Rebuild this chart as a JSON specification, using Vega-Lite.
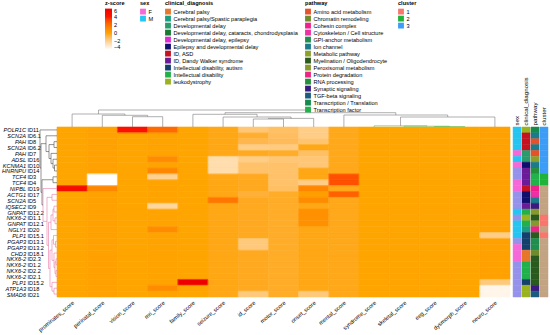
{
"$schema": "https://vega.github.io/schema/vega-lite/v6.json",
"width": 453,
"height": 170,
"padding": {"left": 1, "top": 1, "right": 1, "bottom": 1},
"config": {
  "font": "Liberation Sans",
  "view": {"stroke": null},
  "axis": {"labelFont": "Liberation Sans", "labelColor": "#000000"},
  "legend": {"titleFont": "Liberation Sans", "labelFont": "Liberation Sans", "titleFontSize": 5.6, "labelFontSize": 5.6, "symbolType": "square", "symbolSize": 34, "rowPadding": 0, "titlePadding": 2, "labelOffset": 2.5, "symbolStrokeWidth": 0, "labelLimit": 250, "padding": 0, "titleColor": "#000000", "labelColor": "#000000"}
},
"datasets": {
"rows": [
{"row":"POLR1C ID11","sex":"M","dx":"leukodystrophy","pw":"Transcription / Translation","cl":"3"},
{"row":"SCN2A ID6.1","sex":"M","dx":"ID, ASD","pw":"Ion channel","cl":"3"},
{"row":"PAH ID8","sex":"M","dx":"ID, ASD","pw":"Amino acid metabolism","cl":"3"},
{"row":"SCN2A ID6.2","sex":"M","dx":"ID, ASD","pw":"Ion channel","cl":"3"},
{"row":"PAH ID7","sex":"F","dx":"Developmental delay","pw":"Amino acid metabolism","cl":"3"},
{"row":"ADSL ID16","sex":"M","dx":"Developmental delay","pw":"Metabolic pathway","cl":"3"},
{"row":"KCNMA1 ID10","sex":"F","dx":"Epilepsy and developmental delay","pw":"Ion channel","cl":"3"},
{"row":"HNRNPU ID14","sex":"NA","dx":"ID, Dandy Walker syndrome","pw":"RNA processing","cl":"3"},
{"row":"TCF4 ID3","sex":"NA","dx":"ID, Dandy Walker syndrome","pw":"Transcription factor","cl":"2"},
{"row":"TCF4 ID4","sex":"F","dx":"ID, Dandy Walker syndrome","pw":"Transcription factor","cl":"2"},
{"row":"NIPBL ID19","sex":"F","dx":"ID, ASD","pw":"Cohesin complex","cl":"NA"},
{"row":"ACTG1 ID17","sex":"NA","dx":"Epilepsy and developmental delay","pw":"Cytoskeleton / Cell structure","cl":"NA"},
{"row":"SCN2A ID5","sex":"NA","dx":"Epilepsy and developmental delay","pw":"Ion channel","cl":"NA"},
{"row":"IQSEC2 ID9","sex":"NA","dx":"ID, Dandy Walker syndrome","pw":"Synaptic signaling","cl":"NA"},
{"row":"GNPAT ID12.2","sex":"M","dx":"Intellectual disability","pw":"Peroxisomal metabolism","cl":"NA"},
{"row":"NKX6-2 ID1.1","sex":"NA","dx":"leukodystrophy","pw":"Myelination / Oligodendrocyte","cl":"1"},
{"row":"GNPAT ID12.1","sex":"M","dx":"Intellectual disability","pw":"Peroxisomal metabolism","cl":"1"},
{"row":"NGLY1 ID20","sex":"M","dx":"Cerebral palsy/Spastic paraplegia","pw":"Protein degradation","cl":"NA"},
{"row":"PLP1 ID15.1","sex":"M","dx":"Intellectual disability, autism","pw":"Myelination / Oligodendrocyte","cl":"1"},
{"row":"PGAP3 ID13.1","sex":"NA","dx":"Intellectual disability, autism","pw":"GPI-anchor metabolism","cl":"NA"},
{"row":"PGAP3 ID13.2","sex":"F","dx":"Intellectual disability, autism","pw":"GPI-anchor metabolism","cl":"NA"},
{"row":"CHD3 ID18.1","sex":"F","dx":"Cerebral palsy","pw":"Chromatin remodeling","cl":"NA"},
{"row":"NKX6-2 ID2.3","sex":"F","dx":"Cerebral palsy","pw":"Myelination / Oligodendrocyte","cl":"NA"},
{"row":"NKX6-2 ID1.2","sex":"NA","dx":"Intellectual disability","pw":"Myelination / Oligodendrocyte","cl":"NA"},
{"row":"NKX6-2 ID2.2","sex":"NA","dx":"Intellectual disability","pw":"Myelination / Oligodendrocyte","cl":"NA"},
{"row":"NKX6-2 ID2.1","sex":"NA","dx":"Intellectual disability","pw":"Myelination / Oligodendrocyte","cl":"NA"},
{"row":"PLP1 ID15.2","sex":"NA","dx":"Intellectual disability, autism","pw":"Myelination / Oligodendrocyte","cl":"NA"},
{"row":"ATP1A3 ID18","sex":"NA","dx":"leukodystrophy","pw":"Synaptic signaling","cl":"NA"},
{"row":"SMAD6 ID21","sex":"NA","dx":"leukodystrophy","pw":"TGF-beta signaling","cl":"NA"}
],
"rowtree": [
{"p1":2.5,"h1":0,"p2":3.5,"h2":0,"h":3,"g":"0"},
{"p1":6.5,"h1":0,"p2":7.5,"h2":0,"h":2.5,"g":"0"},
{"p1":5.5,"h1":0,"p2":7,"h2":2.5,"h":4,"g":"0"},
{"p1":4.5,"h1":0,"p2":6.25,"h2":4,"h":6,"g":"0"},
{"p1":3,"h1":3,"p2":5.375,"h2":6,"h":8,"g":"0"},
{"p1":1.5,"h1":0,"p2":4.1875,"h2":8,"h":11,"g":"0"},
{"p1":8.5,"h1":0,"p2":9.5,"h2":0,"h":4,"g":"0"},
{"p1":11.5,"h1":0,"p2":12.5,"h2":0,"h":5,"g":"1"},
{"p1":13.5,"h1":0,"p2":14.5,"h2":0,"h":3,"g":"1"},
{"p1":15.5,"h1":0,"p2":16.5,"h2":0,"h":2,"g":"1"},
{"p1":14,"h1":3,"p2":16,"h2":2,"h":4,"g":"1"},
{"p1":15,"h1":4,"p2":17.5,"h2":0,"h":6,"g":"1"},
{"p1":19.5,"h1":0,"p2":20.5,"h2":0,"h":1.5,"g":"1"},
{"p1":18.5,"h1":0,"p2":20,"h2":1.5,"h":3.5,"g":"1"},
{"p1":22.5,"h1":0,"p2":23.5,"h2":0,"h":1,"g":"1"},
{"p1":24.5,"h1":0,"p2":25.5,"h2":0,"h":1,"g":"1"},
{"p1":23,"h1":1,"p2":25,"h2":1,"h":2,"g":"1"},
{"p1":21.5,"h1":0,"p2":24,"h2":2,"h":3,"g":"1"},
{"p1":19.25,"h1":3.5,"p2":22.75,"h2":3,"h":5,"g":"1"},
{"p1":27.5,"h1":0,"p2":28.5,"h2":0,"h":3,"g":"1"},
{"p1":26.5,"h1":0,"p2":28,"h2":3,"h":5,"g":"1"},
{"p1":21,"h1":5,"p2":27.25,"h2":5,"h":7,"g":"1"},
{"p1":16.25,"h1":6,"p2":24.125,"h2":7,"h":8.5,"g":"1"},
{"p1":12,"h1":5,"p2":20.1875,"h2":8.5,"h":10,"g":"1"},
{"p1":10.5,"h1":0,"p2":16.09375,"h2":10,"h":14,"g":"1"},
{"p1":9,"h1":4,"p2":13.296875,"h2":14,"h":15,"g":"0"},
{"p1":2.84375,"h1":11,"p2":11.1484375,"h2":15,"h":16,"g":"0"},
{"p1":0.5,"h1":0,"p2":6.99609375,"h2":16,"h":17,"g":"0"}
],
"coltree": [
{"p1":2.5,"h1":0,"p2":3.5,"h2":0,"h":10.3,"g":"0"},
{"p1":1.5,"h1":0,"p2":3,"h2":10.3,"h":11.7,"g":"0"},
{"p1":0.5,"h1":0,"p2":2.25,"h2":11.7,"h":13,"g":"0"},
{"p1":6.5,"h1":0,"p2":7.5,"h2":0,"h":8,"g":"0"},
{"p1":7,"h1":8,"p2":8.5,"h2":0,"h":8.6,"g":"0"},
{"p1":5.5,"h1":0,"p2":7.75,"h2":8.6,"h":10,"g":"0"},
{"p1":4.5,"h1":0,"p2":6.625,"h2":10,"h":12.7,"g":"0"},
{"p1":12.5,"h1":0,"p2":13.5,"h2":0,"h":0.5,"g":"2"},
{"p1":11.5,"h1":0,"p2":13,"h2":0.5,"h":0.8,"g":"2"},
{"p1":10.5,"h1":0,"p2":12.25,"h2":0.8,"h":1.2,"g":"2"},
{"p1":11.375,"h1":1.2,"p2":14.5,"h2":0,"h":10,"g":"0"},
{"p1":9.5,"h1":0,"p2":12.9375,"h2":10,"h":12,"g":"0"},
{"p1":5.5625,"h1":12.7,"p2":11.21875,"h2":12,"h":14.3,"g":"0"},
{"p1":1.375,"h1":13,"p2":8.390625,"h2":14.3,"h":17,"g":"0"}
],
"cells": [
{"r":"POLR1C ID11","s":"prominates_score","z":0},{"r":"POLR1C ID11","s":"perinatal_score","z":0.15},{"r":"POLR1C ID11","s":"vision_score","z":4.5},{"r":"POLR1C ID11","s":"mri_score","z":2.2},{"r":"POLR1C ID11","s":"family_score","z":0},{"r":"POLR1C ID11","s":"seizure_score","z":-0.1},{"r":"POLR1C ID11","s":"id_score","z":-1.5},{"r":"POLR1C ID11","s":"motor_score","z":-1.2},{"r":"POLR1C ID11","s":"onset_score","z":-1.8},{"r":"POLR1C ID11","s":"mental_score","z":-0.15},{"r":"POLR1C ID11","s":"syndrome_score","z":0},{"r":"POLR1C ID11","s":"skeletal_score","z":0},{"r":"POLR1C ID11","s":"eeg_score","z":0},{"r":"POLR1C ID11","s":"dysmorph_score","z":0},{"r":"POLR1C ID11","s":"neuro_score","z":0.15},
{"r":"SCN2A ID6.1","s":"prominates_score","z":0},{"r":"SCN2A ID6.1","s":"perinatal_score","z":0.15},{"r":"SCN2A ID6.1","s":"vision_score","z":0},{"r":"SCN2A ID6.1","s":"mri_score","z":0.1},{"r":"SCN2A ID6.1","s":"family_score","z":0},{"r":"SCN2A ID6.1","s":"seizure_score","z":-0.1},{"r":"SCN2A ID6.1","s":"id_score","z":-0.4},{"r":"SCN2A ID6.1","s":"motor_score","z":-1.1},{"r":"SCN2A ID6.1","s":"onset_score","z":-1.8},{"r":"SCN2A ID6.1","s":"mental_score","z":-0.15},{"r":"SCN2A ID6.1","s":"syndrome_score","z":0},{"r":"SCN2A ID6.1","s":"skeletal_score","z":0},{"r":"SCN2A ID6.1","s":"eeg_score","z":0},{"r":"SCN2A ID6.1","s":"dysmorph_score","z":0},{"r":"SCN2A ID6.1","s":"neuro_score","z":0.15},
{"r":"PAH ID8","s":"prominates_score","z":0},{"r":"PAH ID8","s":"perinatal_score","z":0.15},{"r":"PAH ID8","s":"vision_score","z":0},{"r":"PAH ID8","s":"mri_score","z":0.1},{"r":"PAH ID8","s":"family_score","z":0},{"r":"PAH ID8","s":"seizure_score","z":-0.1},{"r":"PAH ID8","s":"id_score","z":-0.8},{"r":"PAH ID8","s":"motor_score","z":-1},{"r":"PAH ID8","s":"onset_score","z":-1.4},{"r":"PAH ID8","s":"mental_score","z":-0.15},{"r":"PAH ID8","s":"syndrome_score","z":0},{"r":"PAH ID8","s":"skeletal_score","z":0},{"r":"PAH ID8","s":"eeg_score","z":0},{"r":"PAH ID8","s":"dysmorph_score","z":0},{"r":"PAH ID8","s":"neuro_score","z":0.15},
{"r":"SCN2A ID6.2","s":"prominates_score","z":0},{"r":"SCN2A ID6.2","s":"perinatal_score","z":0.15},{"r":"SCN2A ID6.2","s":"vision_score","z":0},{"r":"SCN2A ID6.2","s":"mri_score","z":0.1},{"r":"SCN2A ID6.2","s":"family_score","z":0},{"r":"SCN2A ID6.2","s":"seizure_score","z":-0.1},{"r":"SCN2A ID6.2","s":"id_score","z":-1.8},{"r":"SCN2A ID6.2","s":"motor_score","z":-1.7},{"r":"SCN2A ID6.2","s":"onset_score","z":-0.1},{"r":"SCN2A ID6.2","s":"mental_score","z":-0.15},{"r":"SCN2A ID6.2","s":"syndrome_score","z":0},{"r":"SCN2A ID6.2","s":"skeletal_score","z":0},{"r":"SCN2A ID6.2","s":"eeg_score","z":0},{"r":"SCN2A ID6.2","s":"dysmorph_score","z":0},{"r":"SCN2A ID6.2","s":"neuro_score","z":0.15},
{"r":"PAH ID7","s":"prominates_score","z":0},{"r":"PAH ID7","s":"perinatal_score","z":0.15},{"r":"PAH ID7","s":"vision_score","z":0},{"r":"PAH ID7","s":"mri_score","z":0.1},{"r":"PAH ID7","s":"family_score","z":0},{"r":"PAH ID7","s":"seizure_score","z":-0.1},{"r":"PAH ID7","s":"id_score","z":-0.2},{"r":"PAH ID7","s":"motor_score","z":-0.3},{"r":"PAH ID7","s":"onset_score","z":-1.2},{"r":"PAH ID7","s":"mental_score","z":-0.15},{"r":"PAH ID7","s":"syndrome_score","z":0},{"r":"PAH ID7","s":"skeletal_score","z":0},{"r":"PAH ID7","s":"eeg_score","z":0},{"r":"PAH ID7","s":"dysmorph_score","z":0},{"r":"PAH ID7","s":"neuro_score","z":0.15},
{"r":"ADSL ID16","s":"prominates_score","z":0},{"r":"ADSL ID16","s":"perinatal_score","z":0.15},{"r":"ADSL ID16","s":"vision_score","z":0},{"r":"ADSL ID16","s":"mri_score","z":1},{"r":"ADSL ID16","s":"family_score","z":0},{"r":"ADSL ID16","s":"seizure_score","z":-2.5},{"r":"ADSL ID16","s":"id_score","z":-1.8},{"r":"ADSL ID16","s":"motor_score","z":-1.5},{"r":"ADSL ID16","s":"onset_score","z":-1.5},{"r":"ADSL ID16","s":"mental_score","z":-0.15},{"r":"ADSL ID16","s":"syndrome_score","z":0},{"r":"ADSL ID16","s":"skeletal_score","z":0},{"r":"ADSL ID16","s":"eeg_score","z":0},{"r":"ADSL ID16","s":"dysmorph_score","z":0},{"r":"ADSL ID16","s":"neuro_score","z":0.15},
{"r":"KCNMA1 ID10","s":"prominates_score","z":0},{"r":"KCNMA1 ID10","s":"perinatal_score","z":0.15},{"r":"KCNMA1 ID10","s":"vision_score","z":0},{"r":"KCNMA1 ID10","s":"mri_score","z":0.1},{"r":"KCNMA1 ID10","s":"family_score","z":0},{"r":"KCNMA1 ID10","s":"seizure_score","z":-2.5},{"r":"KCNMA1 ID10","s":"id_score","z":-1.3},{"r":"KCNMA1 ID10","s":"motor_score","z":-1.3},{"r":"KCNMA1 ID10","s":"onset_score","z":-1.5},{"r":"KCNMA1 ID10","s":"mental_score","z":-0.15},{"r":"KCNMA1 ID10","s":"syndrome_score","z":0},{"r":"KCNMA1 ID10","s":"skeletal_score","z":0},{"r":"KCNMA1 ID10","s":"eeg_score","z":0},{"r":"KCNMA1 ID10","s":"dysmorph_score","z":0},{"r":"KCNMA1 ID10","s":"neuro_score","z":0.15},
{"r":"HNRNPU ID14","s":"prominates_score","z":0},{"r":"HNRNPU ID14","s":"perinatal_score","z":0.15},{"r":"HNRNPU ID14","s":"vision_score","z":0},{"r":"HNRNPU ID14","s":"mri_score","z":1.2},{"r":"HNRNPU ID14","s":"family_score","z":0},{"r":"HNRNPU ID14","s":"seizure_score","z":-2.5},{"r":"HNRNPU ID14","s":"id_score","z":-1.3},{"r":"HNRNPU ID14","s":"motor_score","z":-1.3},{"r":"HNRNPU ID14","s":"onset_score","z":-0.1},{"r":"HNRNPU ID14","s":"mental_score","z":-0.15},{"r":"HNRNPU ID14","s":"syndrome_score","z":0},{"r":"HNRNPU ID14","s":"skeletal_score","z":0},{"r":"HNRNPU ID14","s":"eeg_score","z":0},{"r":"HNRNPU ID14","s":"dysmorph_score","z":0},{"r":"HNRNPU ID14","s":"neuro_score","z":0.15},
{"r":"TCF4 ID3","s":"prominates_score","z":0},{"r":"TCF4 ID3","s":"perinatal_score","z":-4},{"r":"TCF4 ID3","s":"vision_score","z":0},{"r":"TCF4 ID3","s":"mri_score","z":-2},{"r":"TCF4 ID3","s":"family_score","z":0},{"r":"TCF4 ID3","s":"seizure_score","z":-0.1},{"r":"TCF4 ID3","s":"id_score","z":-0.2},{"r":"TCF4 ID3","s":"motor_score","z":-1.3},{"r":"TCF4 ID3","s":"onset_score","z":-0.1},{"r":"TCF4 ID3","s":"mental_score","z":3},{"r":"TCF4 ID3","s":"syndrome_score","z":0},{"r":"TCF4 ID3","s":"skeletal_score","z":0},{"r":"TCF4 ID3","s":"eeg_score","z":0},{"r":"TCF4 ID3","s":"dysmorph_score","z":0},{"r":"TCF4 ID3","s":"neuro_score","z":0.15},
{"r":"TCF4 ID4","s":"prominates_score","z":0},{"r":"TCF4 ID4","s":"perinatal_score","z":-4},{"r":"TCF4 ID4","s":"vision_score","z":0},{"r":"TCF4 ID4","s":"mri_score","z":0.1},{"r":"TCF4 ID4","s":"family_score","z":0},{"r":"TCF4 ID4","s":"seizure_score","z":-0.1},{"r":"TCF4 ID4","s":"id_score","z":-0.2},{"r":"TCF4 ID4","s":"motor_score","z":-1.3},{"r":"TCF4 ID4","s":"onset_score","z":-1.8},{"r":"TCF4 ID4","s":"mental_score","z":3},{"r":"TCF4 ID4","s":"syndrome_score","z":0},{"r":"TCF4 ID4","s":"skeletal_score","z":0},{"r":"TCF4 ID4","s":"eeg_score","z":0},{"r":"TCF4 ID4","s":"dysmorph_score","z":0},{"r":"TCF4 ID4","s":"neuro_score","z":0.15},
{"r":"NIPBL ID19","s":"prominates_score","z":5},{"r":"NIPBL ID19","s":"perinatal_score","z":1.2},{"r":"NIPBL ID19","s":"vision_score","z":0},{"r":"NIPBL ID19","s":"mri_score","z":0.1},{"r":"NIPBL ID19","s":"family_score","z":0},{"r":"NIPBL ID19","s":"seizure_score","z":-0.1},{"r":"NIPBL ID19","s":"id_score","z":-0.2},{"r":"NIPBL ID19","s":"motor_score","z":-1.2},{"r":"NIPBL ID19","s":"onset_score","z":1.2},{"r":"NIPBL ID19","s":"mental_score","z":-0.15},{"r":"NIPBL ID19","s":"syndrome_score","z":0},{"r":"NIPBL ID19","s":"skeletal_score","z":0},{"r":"NIPBL ID19","s":"eeg_score","z":0},{"r":"NIPBL ID19","s":"dysmorph_score","z":0},{"r":"NIPBL ID19","s":"neuro_score","z":0.15},
{"r":"ACTG1 ID17","s":"prominates_score","z":0},{"r":"ACTG1 ID17","s":"perinatal_score","z":0.15},{"r":"ACTG1 ID17","s":"vision_score","z":0},{"r":"ACTG1 ID17","s":"mri_score","z":0.1},{"r":"ACTG1 ID17","s":"family_score","z":0},{"r":"ACTG1 ID17","s":"seizure_score","z":-0.1},{"r":"ACTG1 ID17","s":"id_score","z":-0.5},{"r":"ACTG1 ID17","s":"motor_score","z":-0.3},{"r":"ACTG1 ID17","s":"onset_score","z":0.3},{"r":"ACTG1 ID17","s":"mental_score","z":2.5},{"r":"ACTG1 ID17","s":"syndrome_score","z":0},{"r":"ACTG1 ID17","s":"skeletal_score","z":0},{"r":"ACTG1 ID17","s":"eeg_score","z":0},{"r":"ACTG1 ID17","s":"dysmorph_score","z":0},{"r":"ACTG1 ID17","s":"neuro_score","z":0.15},
{"r":"SCN2A ID5","s":"prominates_score","z":0},{"r":"SCN2A ID5","s":"perinatal_score","z":0.15},{"r":"SCN2A ID5","s":"vision_score","z":0},{"r":"SCN2A ID5","s":"mri_score","z":0.1},{"r":"SCN2A ID5","s":"family_score","z":0},{"r":"SCN2A ID5","s":"seizure_score","z":1.8},{"r":"SCN2A ID5","s":"id_score","z":-0.2},{"r":"SCN2A ID5","s":"motor_score","z":-0.3},{"r":"SCN2A ID5","s":"onset_score","z":1},{"r":"SCN2A ID5","s":"mental_score","z":-0.15},{"r":"SCN2A ID5","s":"syndrome_score","z":0},{"r":"SCN2A ID5","s":"skeletal_score","z":0},{"r":"SCN2A ID5","s":"eeg_score","z":0},{"r":"SCN2A ID5","s":"dysmorph_score","z":0},{"r":"SCN2A ID5","s":"neuro_score","z":0.15},
{"r":"IQSEC2 ID9","s":"prominates_score","z":0},{"r":"IQSEC2 ID9","s":"perinatal_score","z":0.15},{"r":"IQSEC2 ID9","s":"vision_score","z":0},{"r":"IQSEC2 ID9","s":"mri_score","z":-2.2},{"r":"IQSEC2 ID9","s":"family_score","z":0},{"r":"IQSEC2 ID9","s":"seizure_score","z":-0.1},{"r":"IQSEC2 ID9","s":"id_score","z":-0.2},{"r":"IQSEC2 ID9","s":"motor_score","z":-0.3},{"r":"IQSEC2 ID9","s":"onset_score","z":-0.1},{"r":"IQSEC2 ID9","s":"mental_score","z":-0.15},{"r":"IQSEC2 ID9","s":"syndrome_score","z":0},{"r":"IQSEC2 ID9","s":"skeletal_score","z":0},{"r":"IQSEC2 ID9","s":"eeg_score","z":0},{"r":"IQSEC2 ID9","s":"dysmorph_score","z":0},{"r":"IQSEC2 ID9","s":"neuro_score","z":0.15},
{"r":"GNPAT ID12.2","s":"prominates_score","z":0},{"r":"GNPAT ID12.2","s":"perinatal_score","z":0.15},{"r":"GNPAT ID12.2","s":"vision_score","z":0},{"r":"GNPAT ID12.2","s":"mri_score","z":0.1},{"r":"GNPAT ID12.2","s":"family_score","z":0},{"r":"GNPAT ID12.2","s":"seizure_score","z":-0.1},{"r":"GNPAT ID12.2","s":"id_score","z":-0.2},{"r":"GNPAT ID12.2","s":"motor_score","z":-0.3},{"r":"GNPAT ID12.2","s":"onset_score","z":0.8},{"r":"GNPAT ID12.2","s":"mental_score","z":-0.15},{"r":"GNPAT ID12.2","s":"syndrome_score","z":0},{"r":"GNPAT ID12.2","s":"skeletal_score","z":0},{"r":"GNPAT ID12.2","s":"eeg_score","z":0},{"r":"GNPAT ID12.2","s":"dysmorph_score","z":0},{"r":"GNPAT ID12.2","s":"neuro_score","z":0.15},
{"r":"NKX6-2 ID1.1","s":"prominates_score","z":0},{"r":"NKX6-2 ID1.1","s":"perinatal_score","z":0.15},{"r":"NKX6-2 ID1.1","s":"vision_score","z":0},{"r":"NKX6-2 ID1.1","s":"mri_score","z":0.1},{"r":"NKX6-2 ID1.1","s":"family_score","z":0},{"r":"NKX6-2 ID1.1","s":"seizure_score","z":-0.1},{"r":"NKX6-2 ID1.1","s":"id_score","z":-0.2},{"r":"NKX6-2 ID1.1","s":"motor_score","z":-0.3},{"r":"NKX6-2 ID1.1","s":"onset_score","z":0.8},{"r":"NKX6-2 ID1.1","s":"mental_score","z":-0.15},{"r":"NKX6-2 ID1.1","s":"syndrome_score","z":0},{"r":"NKX6-2 ID1.1","s":"skeletal_score","z":0},{"r":"NKX6-2 ID1.1","s":"eeg_score","z":0},{"r":"NKX6-2 ID1.1","s":"dysmorph_score","z":0},{"r":"NKX6-2 ID1.1","s":"neuro_score","z":0.15},
{"r":"GNPAT ID12.1","s":"prominates_score","z":0},{"r":"GNPAT ID12.1","s":"perinatal_score","z":0.15},{"r":"GNPAT ID12.1","s":"vision_score","z":0},{"r":"GNPAT ID12.1","s":"mri_score","z":0.1},{"r":"GNPAT ID12.1","s":"family_score","z":0},{"r":"GNPAT ID12.1","s":"seizure_score","z":-0.1},{"r":"GNPAT ID12.1","s":"id_score","z":-0.2},{"r":"GNPAT ID12.1","s":"motor_score","z":-0.3},{"r":"GNPAT ID12.1","s":"onset_score","z":0.8},{"r":"GNPAT ID12.1","s":"mental_score","z":-0.15},{"r":"GNPAT ID12.1","s":"syndrome_score","z":0},{"r":"GNPAT ID12.1","s":"skeletal_score","z":0},{"r":"GNPAT ID12.1","s":"eeg_score","z":0},{"r":"GNPAT ID12.1","s":"dysmorph_score","z":0},{"r":"GNPAT ID12.1","s":"neuro_score","z":0.15},
{"r":"NGLY1 ID20","s":"prominates_score","z":0},{"r":"NGLY1 ID20","s":"perinatal_score","z":0.15},{"r":"NGLY1 ID20","s":"vision_score","z":0},{"r":"NGLY1 ID20","s":"mri_score","z":1},{"r":"NGLY1 ID20","s":"family_score","z":0},{"r":"NGLY1 ID20","s":"seizure_score","z":-0.1},{"r":"NGLY1 ID20","s":"id_score","z":-0.2},{"r":"NGLY1 ID20","s":"motor_score","z":-0.3},{"r":"NGLY1 ID20","s":"onset_score","z":-0.1},{"r":"NGLY1 ID20","s":"mental_score","z":-0.15},{"r":"NGLY1 ID20","s":"syndrome_score","z":0},{"r":"NGLY1 ID20","s":"skeletal_score","z":0},{"r":"NGLY1 ID20","s":"eeg_score","z":0},{"r":"NGLY1 ID20","s":"dysmorph_score","z":0},{"r":"NGLY1 ID20","s":"neuro_score","z":0.15},
{"r":"PLP1 ID15.1","s":"prominates_score","z":0},{"r":"PLP1 ID15.1","s":"perinatal_score","z":0.15},{"r":"PLP1 ID15.1","s":"vision_score","z":0},{"r":"PLP1 ID15.1","s":"mri_score","z":0.1},{"r":"PLP1 ID15.1","s":"family_score","z":0},{"r":"PLP1 ID15.1","s":"seizure_score","z":-0.1},{"r":"PLP1 ID15.1","s":"id_score","z":-0.2},{"r":"PLP1 ID15.1","s":"motor_score","z":-0.3},{"r":"PLP1 ID15.1","s":"onset_score","z":-0.1},{"r":"PLP1 ID15.1","s":"mental_score","z":-0.15},{"r":"PLP1 ID15.1","s":"syndrome_score","z":0},{"r":"PLP1 ID15.1","s":"skeletal_score","z":0},{"r":"PLP1 ID15.1","s":"eeg_score","z":0},{"r":"PLP1 ID15.1","s":"dysmorph_score","z":0},{"r":"PLP1 ID15.1","s":"neuro_score","z":-1.8},
{"r":"PGAP3 ID13.1","s":"prominates_score","z":0},{"r":"PGAP3 ID13.1","s":"perinatal_score","z":0.15},{"r":"PGAP3 ID13.1","s":"vision_score","z":0},{"r":"PGAP3 ID13.1","s":"mri_score","z":0.1},{"r":"PGAP3 ID13.1","s":"family_score","z":0},{"r":"PGAP3 ID13.1","s":"seizure_score","z":-0.1},{"r":"PGAP3 ID13.1","s":"id_score","z":-1.6},{"r":"PGAP3 ID13.1","s":"motor_score","z":-0.3},{"r":"PGAP3 ID13.1","s":"onset_score","z":-0.1},{"r":"PGAP3 ID13.1","s":"mental_score","z":-0.15},{"r":"PGAP3 ID13.1","s":"syndrome_score","z":0},{"r":"PGAP3 ID13.1","s":"skeletal_score","z":0},{"r":"PGAP3 ID13.1","s":"eeg_score","z":0},{"r":"PGAP3 ID13.1","s":"dysmorph_score","z":0},{"r":"PGAP3 ID13.1","s":"neuro_score","z":0.15},
{"r":"PGAP3 ID13.2","s":"prominates_score","z":0},{"r":"PGAP3 ID13.2","s":"perinatal_score","z":0.15},{"r":"PGAP3 ID13.2","s":"vision_score","z":0},{"r":"PGAP3 ID13.2","s":"mri_score","z":0.1},{"r":"PGAP3 ID13.2","s":"family_score","z":0},{"r":"PGAP3 ID13.2","s":"seizure_score","z":-0.1},{"r":"PGAP3 ID13.2","s":"id_score","z":-1.6},{"r":"PGAP3 ID13.2","s":"motor_score","z":-0.3},{"r":"PGAP3 ID13.2","s":"onset_score","z":-0.1},{"r":"PGAP3 ID13.2","s":"mental_score","z":-0.15},{"r":"PGAP3 ID13.2","s":"syndrome_score","z":0},{"r":"PGAP3 ID13.2","s":"skeletal_score","z":0},{"r":"PGAP3 ID13.2","s":"eeg_score","z":0},{"r":"PGAP3 ID13.2","s":"dysmorph_score","z":0},{"r":"PGAP3 ID13.2","s":"neuro_score","z":0.15},
{"r":"CHD3 ID18.1","s":"prominates_score","z":0},{"r":"CHD3 ID18.1","s":"perinatal_score","z":0.15},{"r":"CHD3 ID18.1","s":"vision_score","z":0},{"r":"CHD3 ID18.1","s":"mri_score","z":0.1},{"r":"CHD3 ID18.1","s":"family_score","z":0},{"r":"CHD3 ID18.1","s":"seizure_score","z":-0.1},{"r":"CHD3 ID18.1","s":"id_score","z":-0.2},{"r":"CHD3 ID18.1","s":"motor_score","z":-0.3},{"r":"CHD3 ID18.1","s":"onset_score","z":-0.1},{"r":"CHD3 ID18.1","s":"mental_score","z":-0.15},{"r":"CHD3 ID18.1","s":"syndrome_score","z":0},{"r":"CHD3 ID18.1","s":"skeletal_score","z":0},{"r":"CHD3 ID18.1","s":"eeg_score","z":0},{"r":"CHD3 ID18.1","s":"dysmorph_score","z":0},{"r":"CHD3 ID18.1","s":"neuro_score","z":0.15},
{"r":"NKX6-2 ID2.3","s":"prominates_score","z":0},{"r":"NKX6-2 ID2.3","s":"perinatal_score","z":0.15},{"r":"NKX6-2 ID2.3","s":"vision_score","z":0},{"r":"NKX6-2 ID2.3","s":"mri_score","z":0.1},{"r":"NKX6-2 ID2.3","s":"family_score","z":0},{"r":"NKX6-2 ID2.3","s":"seizure_score","z":-0.1},{"r":"NKX6-2 ID2.3","s":"id_score","z":-0.2},{"r":"NKX6-2 ID2.3","s":"motor_score","z":-0.3},{"r":"NKX6-2 ID2.3","s":"onset_score","z":-0.1},{"r":"NKX6-2 ID2.3","s":"mental_score","z":-0.15},{"r":"NKX6-2 ID2.3","s":"syndrome_score","z":0},{"r":"NKX6-2 ID2.3","s":"skeletal_score","z":0},{"r":"NKX6-2 ID2.3","s":"eeg_score","z":0},{"r":"NKX6-2 ID2.3","s":"dysmorph_score","z":0},{"r":"NKX6-2 ID2.3","s":"neuro_score","z":0.15},
{"r":"NKX6-2 ID1.2","s":"prominates_score","z":0},{"r":"NKX6-2 ID1.2","s":"perinatal_score","z":0.15},{"r":"NKX6-2 ID1.2","s":"vision_score","z":0},{"r":"NKX6-2 ID1.2","s":"mri_score","z":0.1},{"r":"NKX6-2 ID1.2","s":"family_score","z":0},{"r":"NKX6-2 ID1.2","s":"seizure_score","z":-0.1},{"r":"NKX6-2 ID1.2","s":"id_score","z":-0.2},{"r":"NKX6-2 ID1.2","s":"motor_score","z":-0.3},{"r":"NKX6-2 ID1.2","s":"onset_score","z":-0.1},{"r":"NKX6-2 ID1.2","s":"mental_score","z":-0.15},{"r":"NKX6-2 ID1.2","s":"syndrome_score","z":0},{"r":"NKX6-2 ID1.2","s":"skeletal_score","z":0},{"r":"NKX6-2 ID1.2","s":"eeg_score","z":0},{"r":"NKX6-2 ID1.2","s":"dysmorph_score","z":0},{"r":"NKX6-2 ID1.2","s":"neuro_score","z":0.15},
{"r":"NKX6-2 ID2.2","s":"prominates_score","z":0},{"r":"NKX6-2 ID2.2","s":"perinatal_score","z":0.15},{"r":"NKX6-2 ID2.2","s":"vision_score","z":0},{"r":"NKX6-2 ID2.2","s":"mri_score","z":0.1},{"r":"NKX6-2 ID2.2","s":"family_score","z":0},{"r":"NKX6-2 ID2.2","s":"seizure_score","z":-0.1},{"r":"NKX6-2 ID2.2","s":"id_score","z":-0.2},{"r":"NKX6-2 ID2.2","s":"motor_score","z":-0.3},{"r":"NKX6-2 ID2.2","s":"onset_score","z":-0.1},{"r":"NKX6-2 ID2.2","s":"mental_score","z":-0.15},{"r":"NKX6-2 ID2.2","s":"syndrome_score","z":0},{"r":"NKX6-2 ID2.2","s":"skeletal_score","z":0},{"r":"NKX6-2 ID2.2","s":"eeg_score","z":0},{"r":"NKX6-2 ID2.2","s":"dysmorph_score","z":0},{"r":"NKX6-2 ID2.2","s":"neuro_score","z":0.15},
{"r":"NKX6-2 ID2.1","s":"prominates_score","z":0},{"r":"NKX6-2 ID2.1","s":"perinatal_score","z":0.15},{"r":"NKX6-2 ID2.1","s":"vision_score","z":0},{"r":"NKX6-2 ID2.1","s":"mri_score","z":0.1},{"r":"NKX6-2 ID2.1","s":"family_score","z":0},{"r":"NKX6-2 ID2.1","s":"seizure_score","z":-0.1},{"r":"NKX6-2 ID2.1","s":"id_score","z":-0.2},{"r":"NKX6-2 ID2.1","s":"motor_score","z":-0.3},{"r":"NKX6-2 ID2.1","s":"onset_score","z":-0.1},{"r":"NKX6-2 ID2.1","s":"mental_score","z":-0.15},{"r":"NKX6-2 ID2.1","s":"syndrome_score","z":0},{"r":"NKX6-2 ID2.1","s":"skeletal_score","z":0},{"r":"NKX6-2 ID2.1","s":"eeg_score","z":0},{"r":"NKX6-2 ID2.1","s":"dysmorph_score","z":0},{"r":"NKX6-2 ID2.1","s":"neuro_score","z":0.15},
{"r":"PLP1 ID15.2","s":"prominates_score","z":0},{"r":"PLP1 ID15.2","s":"perinatal_score","z":0.15},{"r":"PLP1 ID15.2","s":"vision_score","z":0},{"r":"PLP1 ID15.2","s":"mri_score","z":0.1},{"r":"PLP1 ID15.2","s":"family_score","z":6},{"r":"PLP1 ID15.2","s":"seizure_score","z":-0.1},{"r":"PLP1 ID15.2","s":"id_score","z":-0.2},{"r":"PLP1 ID15.2","s":"motor_score","z":-0.3},{"r":"PLP1 ID15.2","s":"onset_score","z":-0.1},{"r":"PLP1 ID15.2","s":"mental_score","z":-0.15},{"r":"PLP1 ID15.2","s":"syndrome_score","z":0},{"r":"PLP1 ID15.2","s":"skeletal_score","z":0},{"r":"PLP1 ID15.2","s":"eeg_score","z":0},{"r":"PLP1 ID15.2","s":"dysmorph_score","z":0},{"r":"PLP1 ID15.2","s":"neuro_score","z":-1.6},
{"r":"ATP1A3 ID18","s":"prominates_score","z":0},{"r":"ATP1A3 ID18","s":"perinatal_score","z":0.15},{"r":"ATP1A3 ID18","s":"vision_score","z":0},{"r":"ATP1A3 ID18","s":"mri_score","z":1},{"r":"ATP1A3 ID18","s":"family_score","z":0},{"r":"ATP1A3 ID18","s":"seizure_score","z":-0.1},{"r":"ATP1A3 ID18","s":"id_score","z":-0.2},{"r":"ATP1A3 ID18","s":"motor_score","z":-0.3},{"r":"ATP1A3 ID18","s":"onset_score","z":-0.1},{"r":"ATP1A3 ID18","s":"mental_score","z":-0.15},{"r":"ATP1A3 ID18","s":"syndrome_score","z":0},{"r":"ATP1A3 ID18","s":"skeletal_score","z":0},{"r":"ATP1A3 ID18","s":"eeg_score","z":0},{"r":"ATP1A3 ID18","s":"dysmorph_score","z":0},{"r":"ATP1A3 ID18","s":"neuro_score","z":-3.6},
{"r":"SMAD6 ID21","s":"prominates_score","z":0},{"r":"SMAD6 ID21","s":"perinatal_score","z":0.15},{"r":"SMAD6 ID21","s":"vision_score","z":0},{"r":"SMAD6 ID21","s":"mri_score","z":0.1},{"r":"SMAD6 ID21","s":"family_score","z":0},{"r":"SMAD6 ID21","s":"seizure_score","z":-0.1},{"r":"SMAD6 ID21","s":"id_score","z":-1.6},{"r":"SMAD6 ID21","s":"motor_score","z":-0.3},{"r":"SMAD6 ID21","s":"onset_score","z":-1.6},{"r":"SMAD6 ID21","s":"mental_score","z":-0.15},{"r":"SMAD6 ID21","s":"syndrome_score","z":0},{"r":"SMAD6 ID21","s":"skeletal_score","z":0},{"r":"SMAD6 ID21","s":"eeg_score","z":0},{"r":"SMAD6 ID21","s":"dysmorph_score","z":0},{"r":"SMAD6 ID21","s":"neuro_score","z":-3.6}
]
},
"layer": [
{
  "data": {"name": "cells"},
  "mark": {"type": "rect"},
  "encoding": {
    "x": {"field": "s", "type": "nominal", "sort": null, "scale": {"paddingInner": 0, "paddingOuter": 0}, "axis": {"orient": "bottom", "title": null, "domain": false, "ticks": false, "labelAngle": -40, "labelFontSize": 5.6, "labelPadding": 3, "labelOverlap": false}},
    "y": {"field": "r", "type": "nominal", "sort": null, "scale": {"paddingInner": 0, "paddingOuter": 0}, "axis": null},
    "color": {"field": "z", "type": "quantitative", "scale": {"domain": [-4, 0, 4, 6], "range": ["#FFFFFF", "#FFA500", "#FF1500", "#EE0000"], "interpolate": "lab"}, "legend": {"orient": "none", "legendX": 48, "legendY": -126, "title": "z-score", "direction": "vertical", "gradientLength": 41, "gradientThickness": 7, "gradientStrokeWidth": 0, "values": [-4, -2, 0, 2, 4, 6], "labelOffset": 2, "labelOverlap": false}}
  }
},
{
  "data": {"name": "cells"},
  "mark": {"type": "rect", "fillOpacity": 0, "strokeWidth": 0.6},
  "encoding": {
    "x": {"field": "s", "type": "nominal", "sort": null, "scale": {"paddingInner": 0, "paddingOuter": 0}, "axis": null},
    "y": {"field": "r", "type": "nominal", "sort": null, "scale": {"paddingInner": 0, "paddingOuter": 0}, "axis": null},
    "stroke": {"field": "z", "type": "quantitative", "scale": {"domain": [-4, 0, 4, 6], "range": ["#FFFFFF", "#FFA500", "#FF1500", "#EE0000"], "interpolate": "lab"}, "legend": null}
  }
},
{
  "data": {"name": "rows"},
  "mark": {"type": "point", "opacity": 0},
  "encoding": {"y": {"field": "row", "type": "nominal", "sort": null, "axis": {"orient": "left", "title": null, "domain": false, "ticks": false, "labelPadding": 30, "labelAlign": "left", "labelExpr": "split(datum.label, ' ')[1]", "labelFontSize": 5.6, "labelOverlap": false}}}
},
{
  "data": {"name": "rows"},
  "mark": {"type": "point", "opacity": 0},
  "encoding": {"y": {"field": "row", "type": "nominal", "sort": null, "axis": {"orient": "left", "title": null, "domain": false, "ticks": false, "labelPadding": 31.5, "labelAlign": "right", "labelFontStyle": "italic", "labelExpr": "split(datum.label, ' ')[0]", "labelFontSize": 5.6, "labelOverlap": false}}}
},
{
  "data": {"name": "rowtree"},
  "layer": [
    {"mark": {"type": "rule", "strokeWidth": 0.6}, "encoding": {"x": {"field": "h", "type": "quantitative", "scale": {"domain": [0, 17], "range": [0, -17], "nice": false, "zero": false}, "axis": null}, "y": {"field": "p1", "type": "quantitative", "scale": {"domain": [0, 29], "range": [0, 170], "nice": false, "zero": false}, "axis": null}, "y2": {"field": "p2"}, "color": {"field": "g", "type": "nominal", "scale": {"domain": ["0", "1"], "range": ["#4D4D4D", "#E97BA7"]}, "legend": null}}},
    {"mark": {"type": "rule", "strokeWidth": 0.6}, "encoding": {"x": {"field": "h", "type": "quantitative", "axis": null}, "x2": {"field": "h1"}, "y": {"field": "p1", "type": "quantitative", "axis": null}, "color": {"field": "g", "type": "nominal", "legend": null}}},
    {"mark": {"type": "rule", "strokeWidth": 0.6}, "encoding": {"x": {"field": "h", "type": "quantitative", "axis": null}, "x2": {"field": "h2"}, "y": {"field": "p2", "type": "quantitative", "axis": null}, "color": {"field": "g", "type": "nominal", "legend": null}}}
  ]
},
{
  "data": {"name": "coltree"},
  "layer": [
    {"mark": {"type": "rule", "strokeWidth": 0.6}, "encoding": {"x": {"field": "p1", "type": "quantitative", "scale": {"domain": [0, 15], "range": [0, 453], "nice": false, "zero": false}, "axis": null}, "x2": {"field": "p2"}, "y": {"field": "h", "type": "quantitative", "scale": {"domain": [0, 17], "range": [0, -17], "nice": false, "zero": false}, "axis": null}, "color": {"field": "g", "type": "nominal", "scale": {"domain": ["0", "2"], "range": ["#7A7A7A", "#5DB94A"]}, "legend": null}}},
    {"mark": {"type": "rule", "strokeWidth": 0.6}, "encoding": {"x": {"field": "p1", "type": "quantitative", "axis": null}, "y": {"field": "h", "type": "quantitative", "axis": null}, "y2": {"field": "h1"}, "color": {"field": "g", "type": "nominal", "legend": null}}},
    {"mark": {"type": "rule", "strokeWidth": 0.6}, "encoding": {"x": {"field": "p2", "type": "quantitative", "axis": null}, "y": {"field": "h", "type": "quantitative", "axis": null}, "y2": {"field": "h2"}, "color": {"field": "g", "type": "nominal", "legend": null}}}
  ]
},
{
  "data": {"name": "rows"},
  "layer": [
    {"mark": {"type": "rect", "strokeWidth": 0.5}, "encoding": {
      "y": {"field": "row", "type": "nominal", "sort": null, "scale": {"paddingInner": 0, "paddingOuter": 0}, "axis": null},
      "x": {"datum": "sex", "type": "nominal", "scale": {"domain": ["sex", "clinical_diagnosis", "pathway", "cluster"], "range": [453, 491], "paddingInner": 0.1, "paddingOuter": 0.17, "align": 1}, "axis": {"orient": "top", "title": null, "domain": false, "ticks": false, "labelAngle": -90, "labelAlign": "left", "labelBaseline": "middle", "labelPadding": 2, "labelFontSize": 6.2, "labelOverlap": false}},
      "color": {"field": "sex", "type": "nominal", "scale": {"domain": ["F", "M", "NA"], "range": ["#F468D8", "#24C5F1", "#9592EA"]}, "legend": {"orient": "none", "legendX": 83, "legendY": -126, "title": "sex", "values": ["F", "M"]}},
      "stroke": {"field": "sex", "type": "nominal", "scale": {"domain": ["F", "M", "NA"], "range": ["#F468D8", "#24C5F1", "#9592EA"]}, "legend": null}}},
    {"mark": {"type": "rect", "strokeWidth": 0.5}, "encoding": {
      "y": {"field": "row", "type": "nominal", "sort": null},
      "x": {"datum": "clinical_diagnosis", "type": "nominal"},
      "color": {"field": "dx", "type": "nominal", "scale": {"domain": ["Cerebral palsy", "Cerebral palsy/Spastic paraplegia", "Developmental delay", "Developmental delay, cataracts, chondrodysplasia", "Developmental delay, epilepsy", "Epilepsy and developmental delay", "ID, ASD", "ID, Dandy Walker syndrome", "Intellectual disability, autism", "Intellectual disability", "leukodystrophy"], "range": ["#E6762A", "#1A9E82", "#2B9A6C", "#167A2F", "#DD2BD3", "#10106C", "#C51221", "#6C1B98", "#15406E", "#22B04B", "#9AB21F"]}, "legend": {"orient": "none", "legendX": 108, "legendY": -126, "title": "clinical_diagnosis"}},
      "stroke": {"field": "dx", "type": "nominal", "scale": {"domain": ["Cerebral palsy", "Cerebral palsy/Spastic paraplegia", "Developmental delay", "Developmental delay, cataracts, chondrodysplasia", "Developmental delay, epilepsy", "Epilepsy and developmental delay", "ID, ASD", "ID, Dandy Walker syndrome", "Intellectual disability, autism", "Intellectual disability", "leukodystrophy"], "range": ["#E6762A", "#1A9E82", "#2B9A6C", "#167A2F", "#DD2BD3", "#10106C", "#C51221", "#6C1B98", "#15406E", "#22B04B", "#9AB21F"]}, "legend": null}}},
    {"mark": {"type": "rect", "strokeWidth": 0.5}, "encoding": {
      "y": {"field": "row", "type": "nominal", "sort": null},
      "x": {"datum": "pathway", "type": "nominal"},
      "color": {"field": "pw", "type": "nominal", "scale": {"domain": ["Amino acid metabolism", "Chromatin remodeling", "Cohesin complex", "Cytoskeleton / Cell structure", "GPI-anchor metabolism", "Ion channel", "Metabolic pathway", "Myelination / Oligodendrocyte", "Peroxisomal metabolism", "Protein degradation", "RNA processing", "Synaptic signaling", "TGF-beta signaling", "Transcription / Translation", "Transcription factor"], "range": ["#E4512B", "#6E8C2C", "#F0218D", "#EE2FA6", "#208E4E", "#1C7B8A", "#8EA02C", "#2A5A1E", "#86992E", "#EC2585", "#24903C", "#3A1A80", "#1C5B80", "#168A4C", "#22B24A"]}, "legend": {"orient": "none", "legendX": 248, "legendY": -126, "title": "pathway"}},
      "stroke": {"field": "pw", "type": "nominal", "scale": {"domain": ["Amino acid metabolism", "Chromatin remodeling", "Cohesin complex", "Cytoskeleton / Cell structure", "GPI-anchor metabolism", "Ion channel", "Metabolic pathway", "Myelination / Oligodendrocyte", "Peroxisomal metabolism", "Protein degradation", "RNA processing", "Synaptic signaling", "TGF-beta signaling", "Transcription / Translation", "Transcription factor"], "range": ["#E4512B", "#6E8C2C", "#F0218D", "#EE2FA6", "#208E4E", "#1C7B8A", "#8EA02C", "#2A5A1E", "#86992E", "#EC2585", "#24903C", "#3A1A80", "#1C5B80", "#168A4C", "#22B24A"]}, "legend": null}}},
    {"mark": {"type": "rect", "strokeWidth": 0.5}, "encoding": {
      "y": {"field": "row", "type": "nominal", "sort": null},
      "x": {"datum": "cluster", "type": "nominal"},
      "color": {"field": "cl", "type": "nominal", "scale": {"domain": ["1", "2", "3", "NA"], "range": ["#F8766D", "#1FB33A", "#3C9DF7", "#C2A382"]}, "legend": {"orient": "none", "legendX": 341, "legendY": -126, "title": "cluster", "values": ["1", "2", "3"]}},
      "stroke": {"field": "cl", "type": "nominal", "scale": {"domain": ["1", "2", "3", "NA"], "range": ["#F8766D", "#1FB33A", "#3C9DF7", "#C2A382"]}, "legend": null}}}
  ],
  "resolve": {"scale": {"color": "independent", "stroke": "independent"}}
}
],
"resolve": {"scale": {"x": "independent", "y": "independent", "color": "independent", "stroke": "independent"}, "axis": {"x": "independent", "y": "independent"}}
}
